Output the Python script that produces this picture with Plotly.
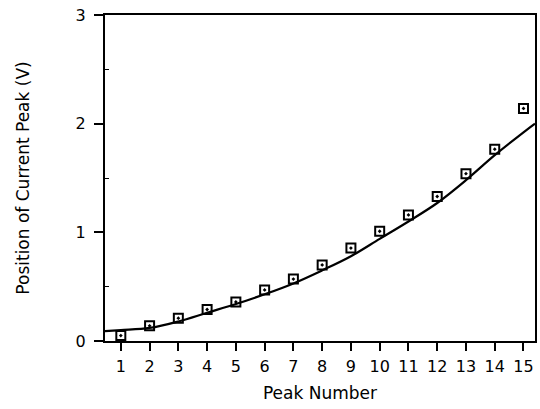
import plotly.graph_objects as go

peak_number = [1, 2, 3, 4, 5, 6, 7, 8, 9, 10, 11, 12, 13, 14, 15]
peak_position = [0.05, 0.14, 0.21, 0.29, 0.36, 0.47, 0.57, 0.70, 0.855, 1.01, 1.16, 1.33, 1.54, 1.765, 2.14]

fit_x = [0.45, 1, 2, 3, 4, 5, 6, 7, 8, 9, 10, 11, 12, 13, 14, 15, 15.4]
fit_y = [0.09, 0.10, 0.12, 0.18, 0.26, 0.34, 0.43, 0.53, 0.65, 0.78, 0.94, 1.10, 1.27, 1.48, 1.71, 1.92, 2.0]

tick_vals = list(range(1, 16))
tick_text = [str(v) for v in tick_vals]

fig = go.Figure()
fig.add_trace(go.Scatter(x=fit_x, y=fit_y, mode="lines", line_shape="spline",
                         line=dict(color="black", width=2.2), showlegend=False))
fig.add_trace(go.Scatter(x=peak_number, y=peak_position, mode="markers",
                         marker=dict(symbol="square-open-dot", size=9, color="black",
                                     line=dict(color="black", width=2)),
                         showlegend=False))

font = "DejaVu Sans, Liberation Sans, Arial, sans-serif"
fig.update_layout(
    width=540, height=409,
    margin=dict(l=105, r=3, t=15, b=68),
    paper_bgcolor="white", plot_bgcolor="white",
    font=dict(family=font, size=16, color="black"),
    xaxis=dict(range=[0.45, 15.4], tickvals=tick_vals, ticktext=tick_text,
               ticks="outside", ticklen=8, tickwidth=1.5, tickcolor="black",
               showline=True, linecolor="black", linewidth=2, mirror=True,
               showgrid=False, zeroline=False, ticklabelstandoff=2,
               title=dict(text="Peak Number", font=dict(size=17, color="black"), standoff=12),
               tickfont=dict(size=16, color="black")),
    yaxis=dict(range=[0, 3], tickvals=[0, 1, 2, 3],
               ticks="outside", ticklen=9, tickwidth=1.5, tickcolor="black",
               showline=True, linecolor="black", linewidth=2, mirror=True,
               showgrid=False, zeroline=False, ticklabelstandoff=5,
               minor=dict(tickvals=[0.5, 1.5, 2.5], ticks="inside", ticklen=4,
                          tickcolor="black", tickwidth=1.2, showgrid=False),
               title=dict(text="Position of Current Peak (V)", font=dict(size=17, color="black"), standoff=42),
               tickfont=dict(size=16, color="black")),
)

fig.write_html("out.html")
